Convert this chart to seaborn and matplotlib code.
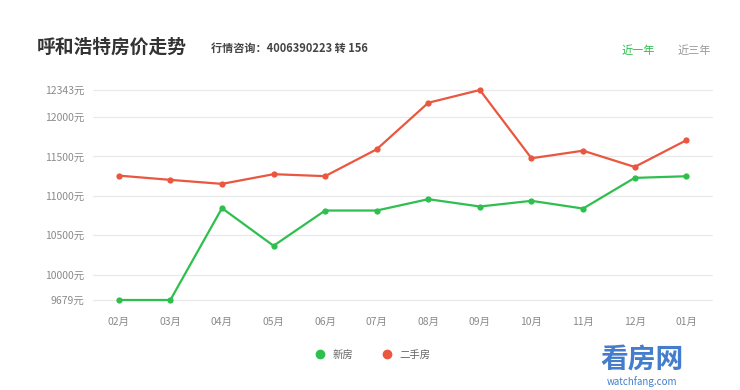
import pandas as pd
import matplotlib
matplotlib.use("Agg")
import matplotlib.pyplot as plt
from matplotlib.lines import Line2D
import seaborn as sns

# data
months = ["02月", "03月", "04月", "05月", "06月", "07月", "08月", "09月", "10月", "11月", "12月", "01月"]
new_house = [9679, 9679, 10844, 10367, 10814, 10814, 10958, 10865, 10937, 10839, 11228, 11249]
second_hand = [11257, 11203, 11152, 11275, 11250, 11591, 12181, 12343, 11477, 11573, 11367, 11705]
ytick_vals = [9679, 10000, 10500, 11000, 11500, 12000, 12343]
series_names = ["新房", "二手房"]
colors = {"新房": "#2fbf4f", "二手房": "#e9573f"}

df = pd.DataFrame({
    "month": months * 2,
    "idx": list(range(len(months))) * 2,
    "price": new_house + second_hand,
    "type": [series_names[0]] * len(months) + [series_names[1]] * len(months),
})

sns.set_theme(style="white")
plt.rcParams["font.family"] = ["Noto Sans CJK SC", "DejaVu Sans"]

fig = plt.figure(figsize=(7.4, 3.9), dpi=100)
ax = fig.add_axes([93 / 740, 1 - 300 / 390, (712 - 93) / 740, 210 / 390])

sns.lineplot(data=df, x="idx", y="price", hue="type", hue_order=series_names,
             palette=colors, marker="o", markersize=4.5, markeredgewidth=0,
             linewidth=1.6, ax=ax, legend=False)

ax.set_xlim(-0.5, len(months) - 0.5)
ax.set_ylim(min(ytick_vals), max(ytick_vals))
ax.set_xticks(range(len(months)))
ax.set_xticklabels(months)
ax.set_yticks(ytick_vals)
ax.set_yticklabels([f"{v}元" for v in ytick_vals])
ax.tick_params(axis="both", length=0, labelsize=7.5, labelcolor="#8a8a8a")
ax.tick_params(axis="x", pad=12)
ax.tick_params(axis="y", pad=6)
ax.set_xlabel("")
ax.set_ylabel("")
for v in ytick_vals:
    ax.axhline(v, color="#e9e9e9", linewidth=0.9, zorder=0)
for s in ax.spines.values():
    s.set_visible(False)
ax.clip_on = False
for ln in ax.lines:
    ln.set_clip_on(False)

# title and header texts
fig.text(37 / 740, 1 - 47 / 390, "呼和浩特房价走势", fontsize=13.5, fontweight="bold",
         color="#333333", va="center", ha="left")
fig.text(211 / 740, 1 - 48 / 390, "行情咨询：4006390223 转 156", fontsize=8,
         fontweight="bold", color="#444444", va="center", ha="left")
fig.text(622 / 740, 1 - 51 / 390, "近一年", fontsize=8, color="#2fbf4f", va="center", ha="left")
fig.text(678 / 740, 1 - 51 / 390, "近三年", fontsize=8, color="#999999", va="center", ha="left")

# legend
handles = [Line2D([], [], marker="o", linestyle="", markersize=6, color=colors[n]) for n in series_names]
fig.legend(handles, series_names, loc="center", bbox_to_anchor=(370 / 740, 1 - 355 / 390),
           ncol=2, frameon=False, fontsize=7.5, handletextpad=0.2, columnspacing=2.2,
           labelcolor="#666666")

# watermark
fig.text(600 / 740, 1 - 360 / 390, "看房网", fontsize=20, fontweight="bold", color="#2f6fc6",
         va="center", ha="left", alpha=0.9)
fig.text(607 / 740, 1 - 382 / 390, "watchfang.com", fontsize=7, color="#2f6fc6",
         va="center", ha="left", alpha=0.9)

fig.savefig("out.png", dpi=100, facecolor="white")
